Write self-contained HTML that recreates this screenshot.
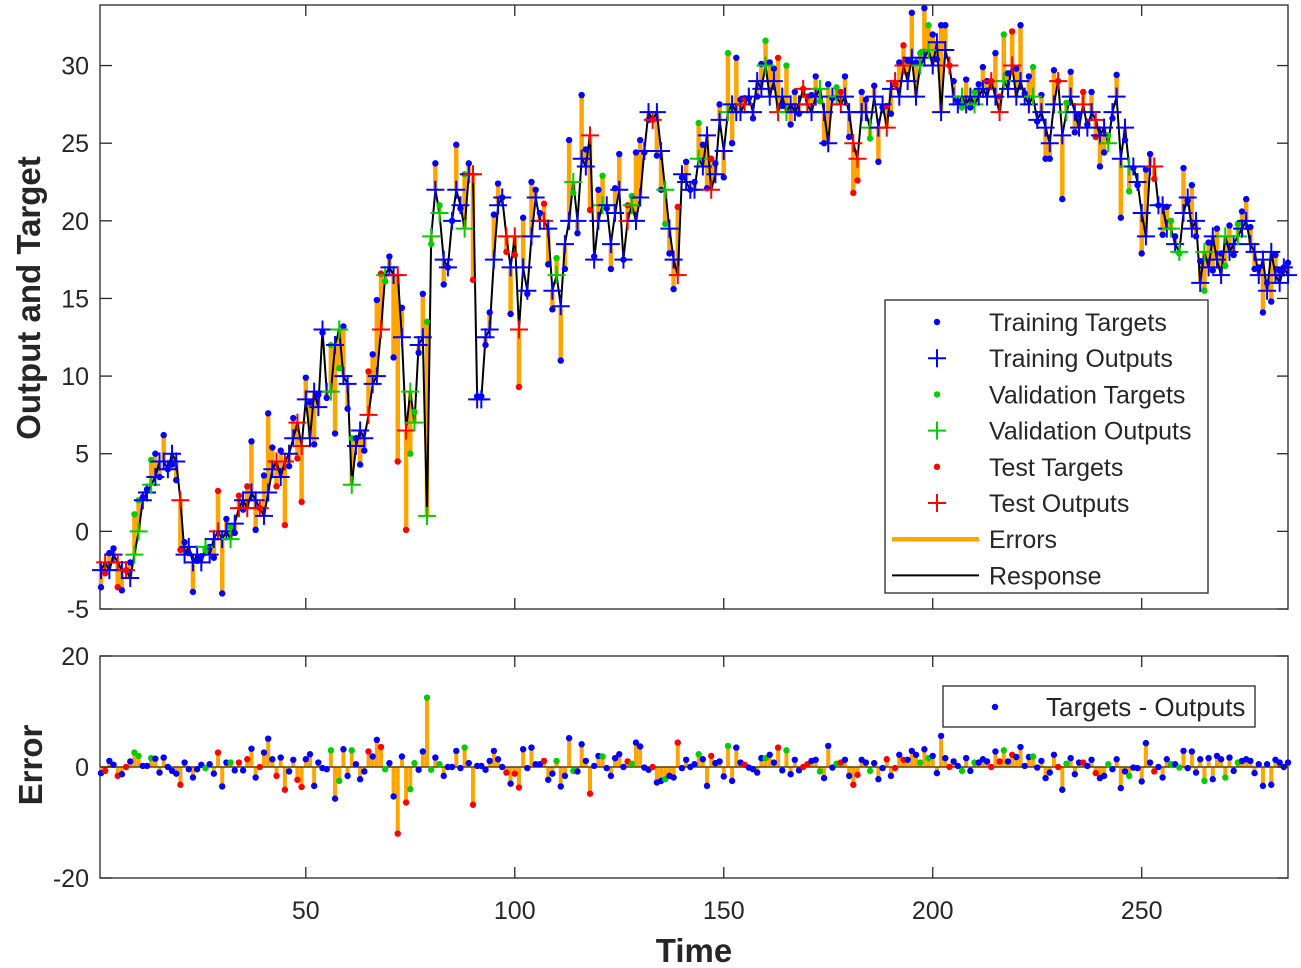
<!DOCTYPE html>
<html><head><meta charset="utf-8"><style>
html,body{margin:0;padding:0;background:#fff;}
svg{display:block;font-family:"Liberation Sans",Arial,sans-serif;}
</style></head><body>
<svg id="chart" width="1301" height="968" viewBox="0 0 1301 968" xmlns="http://www.w3.org/2000/svg">
<rect x="0" y="0" width="1301" height="968" fill="#fff"/>
<g id="topAxes"></g>
<g id="botAxes"></g>
</svg>
<script>
const outputs = [
-2.5,-2,-2.5,-1.5,-2,-2.5,-2.5,-3,-1.5,0,
2,2.5,3,3.5,4.5,4.5,4,5,4.5,2,
-1.5,-1,-2,-1.5,-2,-1,-1.5,-0.5,0,-0.5,
0,-0.5,0.5,1.5,2,1.5,2.5,2,1.5,1,
2.5,4,4.5,3.5,4.5,5,6,7,5.5,8.5,
6,9,8,13,9,9,12,13,10,9.5,
3,5.5,6.5,6,7.5,9.5,10,13,16.5,17,
16.5,16.5,12.5,6.5,9,7,12,12.5,1,19,
22,20.5,17.5,17,20,22,21,19.5,23,23,
8.5,8.5,12.5,13,17.5,21,21.5,19,17,19,
13,17,15.5,19,21.5,20,20,19.5,15.5,16.5,
14.5,18.5,20,22.5,20,24,23.5,25.5,17.5,20,
21,21,18.5,20.5,22,17.5,20,21,20,21.5,
24.5,27,26.5,27,24.5,22,19.5,17.5,16.5,23,
22.5,22,22,24,23.5,25.5,22,23,26.5,24.5,
27,27.5,27,27,27.5,28,27,29,28.5,30,
28,29,27,28,27,27.5,27,27.5,28.5,27.5,
27,28,28.5,27,25,28,28,27.5,28,27,
25,24,27,27,26,28,26,27.5,26,28.5,
29,28,30,29,30.5,28,30,30.5,31,30,
31.5,27,31,30,28,27.5,28,27.5,28,27.5,
28,28.5,28,29,28,27,29,28.5,30,28,
29,28,27.5,28,26.5,27,26,25,27.5,29,
25.5,27,28,27,26,27.5,26,27,26.5,25.5,
26,25,27,28,24,26,23.5,23.5,22.5,20.5,
19,23.5,23.5,21,21,19.5,19.5,18.5,18,20.5,
21.5,19.5,20,16,18,17,19,17.5,16.5,19,
18,18.5,19,19.5,20,18.5,18,16.5,17.5,15.5,
18,16.5,16,17,16.5];
const errors = [
-1.1,-0.7,1.1,0.4,-1.6,-1.3,0,1,2.6,2,
0.2,0.2,1.6,1.5,-1,1.7,0,-0.7,-1.2,-3.2,
0.8,-0.4,-1.9,-0.4,0.4,-0.2,0.5,-1.2,2.6,-3.5,
0.8,0.8,-0.6,0.8,-0.6,1.4,3.3,-1.9,0,2.6,
5.1,1.4,-1.6,1.7,-4.1,-0.8,1.3,-2.3,-3.6,1.4,
2.3,-3.4,0.8,-0.2,-0.4,3,-5.7,-2.5,3.2,-1.6,
3,0.5,-2.2,-0.8,2.8,1.9,4.9,3.6,-0.4,0.7,
-5.3,-12,1.9,-6.4,-4,0.7,-0.5,2.8,12.5,-0.5,
1.7,0.5,-1.6,0,0,2.9,-0.2,3.5,0.7,-6.8,
0.2,0.2,-0.5,1.1,2.9,1.4,0,-1,-3,-1.2,
-3.7,3.2,-0.2,3.5,0.5,0.5,1.1,-2.3,-1.2,1.1,
-3.5,-1.6,5.2,-0.7,-0.8,4.1,1.1,-4.8,0.2,2,
1.9,-0.2,-1.6,1.6,2.3,0,1,0.6,4.4,3.7,
-0.1,-0.5,0,-2.8,-2.5,-2.2,-1.6,-1.9,4.4,-0.2,
1.3,0,0.5,2.3,1.4,-3.4,2,0.7,1,-1.7,
3.8,-2.5,3.5,0.8,0.4,-0.1,-0.4,-1,1.6,1.6,
2.2,0.8,3.5,-0.6,3,-1.3,1.3,-0.6,0,0.5,
1.1,1.3,-0.8,-2,3.8,-0.1,0.6,0.8,1.3,-1.6,
-3.2,-1.4,1.3,0.8,-0.7,0.7,-2.2,-0.2,1.4,-1.6,
-0.2,2.2,1.3,1.3,2.9,2.2,0.8,3.2,1.6,2,
-1.1,5.6,1.6,0,1,0.2,-0.7,1.6,-0.7,0.8,
0.8,1.4,1,0,2.8,1,3,1,2.2,1.8,
3.6,0.2,1.8,1.9,-0.1,1.1,-2,-1,2.2,0,
-4.1,0.6,1.6,-1.3,0.8,0.8,0.2,1.3,-1.1,-2,
-1.6,0.5,-0.4,1.4,-3.8,-0.8,-1.6,-0.1,-0.2,-2.6,
4.3,0.8,-0.8,0,-1.9,1.4,0.5,0.5,-0.1,2.9,
-0.2,2.8,-1,1.4,-2.5,1.6,-2.2,2,1.4,-1.9,
1.7,-0.7,0.8,1.1,1.4,1.1,-1.1,0.5,-3.4,0.5,
-3.2,1.3,0.8,0,0.8];
const splits = "tsttststvvttvtttttts" + "tttttvttsttvtststtst" +
 "ttststtssttttttvtvttvtttsttsvttstsvvttvvtvtttttvtstttttttstsstttttsttvtttvttt" +
 "sttvtttttsvttttsttvttsttttvttstttvtttsttttvttstvtttssttvtttvsttssttvtttstststt" +
 "tvtvttttsttvttvtttstsvtsttttvtttttstvtttsttsttvttttvtttttstttvtvtttttvttttvttv";
const xTicks = [50,100,150,200,250];
const yTicksTop = [-5,0,5,10,15,20,25,30];
const yTicksBot = [-20,0,20];
const legendLabels = ["Training Targets","Training Outputs","Validation Targets","Validation Outputs","Test Targets","Test Outputs","Errors","Response"];

const NS="http://www.w3.org/2000/svg";
const X0=101, X1=1288, XMIN=1, XMAX=285;
const xs = v => X0 + (v-XMIN)*(X1-X0)/(XMAX-XMIN);
const TY0=5, TY1=609, TMIN=-5, TMAX=33.9;
const yT = v => TY1 - (v-TMIN)*(TY1-TY0)/(TMAX-TMIN);
const BY0=656, BY1=878;
const yB = v => BY1 - (v+20)*(BY1-BY0)/40;
const col = {t:"#0000ff", v:"#00cc00", s:"#ff0000"};
function mk(tag, attrs, parent){const e=document.createElementNS(NS,tag);for(const k in attrs)e.setAttribute(k,attrs[k]);parent.appendChild(e);return e;}
const gTop=document.getElementById('topAxes'), gBot=document.getElementById('botAxes');
const N=outputs.length;
const targets=outputs.map((o,i)=>o+(errors[i]||0));
function sp(i){const c=splits[i];return (c==='v'||c==='s')?c:'t';}

let e=mk('rect',{x:X0-1,y:TY0,width:X1-X0+1,height:TY1-TY0,fill:'none',stroke:'#262626','stroke-width':1.3},gTop);


const gErr=mk('g',{},gTop);


for(let i=0;i<N;i++){const l=mk('line',{x1:xs(i+1),x2:xs(i+1),y1:yT(targets[i]),y2:yT(outputs[i]),stroke:'#ffa500','stroke-width':4.5},gErr);

}
let d='';for(let i=0;i<N;i++)d+=(i?'L':'M')+xs(i+1).toFixed(1)+' '+yT(outputs[i]).toFixed(1);
e=mk('path',{d:d,fill:'none',stroke:'#000','stroke-width':2},gTop);


const gT=mk('g',{},gTop);


for(let i=0;i<N;i++){const c=mk('circle',{cx:xs(i+1),cy:yT(targets[i]),r:3.2,fill:col[sp(i)]},gT);

}
const gO=mk('g',{},gTop);


for(let i=0;i<N;i++){const x=xs(i+1),y=yT(outputs[i]);
const p=mk('path',{d:`M${x-9} ${y}H${x+9}M${x} ${y-9}V${y+9}`,stroke:col[sp(i)],'stroke-width':2,fill:'none'},gO);

}
for(const t of yTicksTop){const y=yT(t);
mk('line',{x1:X0-1,x2:X0+11,y1:y,y2:y,stroke:'#262626','stroke-width':1.3},gTop);
mk('line',{x1:X1-11,x2:X1,y1:y,y2:y,stroke:'#262626','stroke-width':1.3},gTop);
const tx=mk('text',{x:X0-12,y:y+9,'text-anchor':'end','font-size':25,fill:'#262626'},gTop);tx.textContent=t;

}
for(const t of xTicks){const x=xs(t);
mk('line',{x1:x,x2:x,y1:TY1,y2:TY1-11,stroke:'#262626','stroke-width':1.3},gTop);
mk('line',{x1:x,x2:x,y1:TY0,y2:TY0+11,stroke:'#262626','stroke-width':1.3},gTop);
mk('line',{x1:x,x2:x,y1:BY1,y2:BY1-11,stroke:'#262626','stroke-width':1.3},gBot);
mk('line',{x1:x,x2:x,y1:BY0,y2:BY0+11,stroke:'#262626','stroke-width':1.3},gBot);
const tx=mk('text',{x:x,y:919,'text-anchor':'middle','font-size':25,fill:'#262626'},gBot);tx.textContent=t;

}
e=mk('text',{x:0,y:0,transform:'translate(40,298) rotate(-90)','text-anchor':'middle','font-size':33,'font-weight':'bold',fill:'#262626'},gTop);
e.textContent='Output and Target';



const lg=mk('g',{},gTop);


mk('rect',{x:885,y:300,width:323,height:293,fill:'#fff',stroke:'#262626','stroke-width':1.3},lg);
const lgCols=['#0000ff','#0000ff','#00cc00','#00cc00','#ff0000','#ff0000','#ffa500','#000'];
for(let k=0;k<legendLabels.length;k++){const y=322+k*36.2;
if(k<6){ if(k%2===0) mk('circle',{cx:937,cy:y,r:3.2,fill:lgCols[k]},lg);
 else mk('path',{d:`M928 ${y}H946M937 ${y-9}V${y+9}`,stroke:lgCols[k],'stroke-width':2},lg);}
else mk('line',{x1:892,x2:979,y1:y,y2:y,stroke:lgCols[k],'stroke-width':k===6?4.5:2},lg);
const tx=mk('text',{x:989,y:y+9,'font-size':25,fill:'#262626'},lg);tx.textContent=legendLabels[k];

}

e=mk('rect',{x:X0-1,y:BY0,width:X1-X0+1,height:BY1-BY0,fill:'none',stroke:'#262626','stroke-width':1.3},gBot);


const gS=mk('g',{},gBot);


for(let i=0;i<N;i++){const l=mk('line',{x1:xs(i+1),x2:xs(i+1),y1:yB(0),y2:yB(errors[i]),stroke:'#ffa500','stroke-width':4},gS);

}
mk('line',{x1:X0,x2:X1,y1:yB(0),y2:yB(0),stroke:'#5a4000','stroke-width':1.5},gBot);
const gD=mk('g',{},gBot);


for(let i=0;i<N;i++){const c=mk('circle',{cx:xs(i+1),cy:yB(errors[i]),r:3.2,fill:col[sp(i)]},gD);

}
for(const t of yTicksBot){const y=yB(t);
mk('line',{x1:X0-1,x2:X0+11,y1:y,y2:y,stroke:'#262626','stroke-width':1.3},gBot);
mk('line',{x1:X1-11,x2:X1,y1:y,y2:y,stroke:'#262626','stroke-width':1.3},gBot);
const tx=mk('text',{x:X0-12,y:y+9,'text-anchor':'end','font-size':25,fill:'#262626'},gBot);tx.textContent=t;

}
e=mk('text',{x:0,y:0,transform:'translate(42,765) rotate(-90)','text-anchor':'middle','font-size':33,'font-weight':'bold',fill:'#262626'},gBot);
e.textContent='Error';


e=mk('text',{x:694,y:962,'text-anchor':'middle','font-size':33,'font-weight':'bold',fill:'#262626'},gBot);
e.textContent='Time';


const lb=mk('g',{},gBot);


mk('rect',{x:943,y:686,width:312,height:41,fill:'#fff',stroke:'#262626','stroke-width':1.3},lb);
mk('circle',{cx:995,cy:707,r:3.2,fill:'#0000ff'},lb);
e=mk('text',{x:1046,y:716,'font-size':26,fill:'#262626'},lb);e.textContent='Targets - Outputs';


</script>
</body></html>
